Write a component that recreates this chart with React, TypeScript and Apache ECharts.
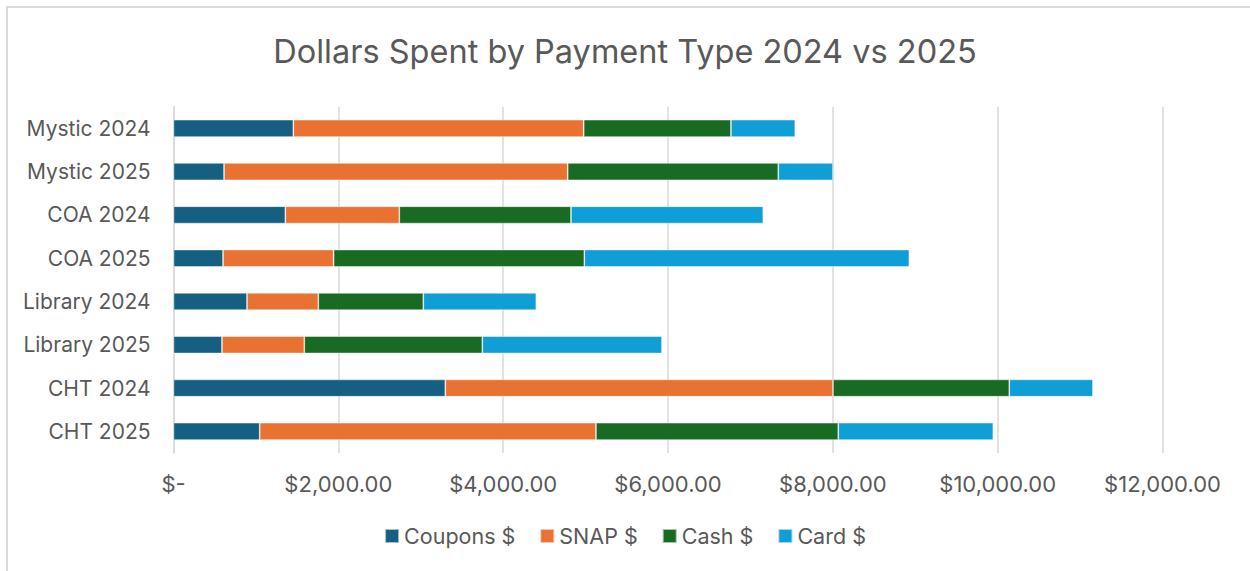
import React, { useEffect, useRef } from "react";
import * as echarts from "echarts";

const categories = [
  "Mystic 2024",
  "Mystic 2025",
  "COA 2024",
  "COA 2025",
  "Library 2024",
  "Library 2025",
  "CHT 2024",
  "CHT 2025",
];
const coupons = [1454, 613, 1357, 601, 892, 588, 3298, 1046];
const snap = [3523, 4170, 1383, 1342, 865, 999, 4704, 4080];
const cash = [1787, 2555, 2083, 3042, 1274, 2160, 2139, 2940];
const card = [780, 664, 2333, 3943, 1371, 2180, 1015, 1881];
const seriesNames = ["Coupons $", "SNAP $", "Cash $", "Card $"];
const seriesColors = ["#156082", "#E97132", "#196B24", "#0F9ED5"];
const title = "Dollars Spent by Payment Type 2024 vs 2025";

const FONT = "Inter";
const TXT = "#595959";

function fmt(v: number) {
  if (v === 0) return "$-";
  return "$" + v.toLocaleString("en-US", { minimumFractionDigits: 2, maximumFractionDigits: 2 });
}

export default function App() {
  const ref = useRef<HTMLDivElement>(null);
  useEffect(() => {
    if (!ref.current) return;
    const chart = echarts.init(ref.current, null, { renderer: "svg" });
    const data = [coupons, snap, cash, card];
    chart.setOption({
      animation: false,
      backgroundColor: "#ffffff",
      title: {
        text: title,
        left: "center",
        top: 30,
        textStyle: { fontFamily: FONT, fontSize: 32.5, fontWeight: "normal", color: TXT },
      },
      graphic: [
        {
          type: "rect",
          shape: { x: 7, y: 7, width: 1300, height: 600 },
          style: { fill: "none", stroke: "#d9d9d9", lineWidth: 2 },
          silent: true,
        },
      ],
      legend: {
        bottom: 19,
        left: "center",
        itemWidth: 14,
        itemHeight: 14,
        itemGap: 24,
        icon: "rect",
        textStyle: { fontFamily: FONT, fontSize: 21.5, color: TXT },
        data: seriesNames,
      },
      grid: { left: 173.5, right: 87.5, top: 106.7, bottom: 118, containLabel: false },
      xAxis: {
        type: "value",
        min: 0,
        max: 12000,
        interval: 2000,
        axisLine: { show: false },
        axisTick: { show: false },
        splitLine: { show: true, lineStyle: { color: "#d9d9d9", width: 1.5 } },
        axisLabel: {
          formatter: fmt,
          margin: 20,
          fontFamily: FONT,
          fontSize: 22,
          color: TXT,
        },
      },
      yAxis: {
        type: "category",
        inverse: true,
        data: categories,
        axisLine: { show: true, lineStyle: { color: "#d9d9d9", width: 1.5 } },
        axisTick: { show: false },
        axisLabel: { margin: 23, fontFamily: FONT, fontSize: 21, color: TXT },
      },
      series: seriesNames.map((name, i) => ({
        name,
        type: "bar",
        stack: "total",
        barWidth: "40%",
        data: data[i],
        itemStyle: { color: seriesColors[i], borderColor: "rgba(255,255,255,0.6)", borderWidth: 0.75 },
      })),
    });
    return () => chart.dispose();
  }, []);
  return (
    <div
      ref={ref}
      style={{ position: "absolute", left: 0, top: 0, width: 1250, height: 571 }}
    />
  );
}
